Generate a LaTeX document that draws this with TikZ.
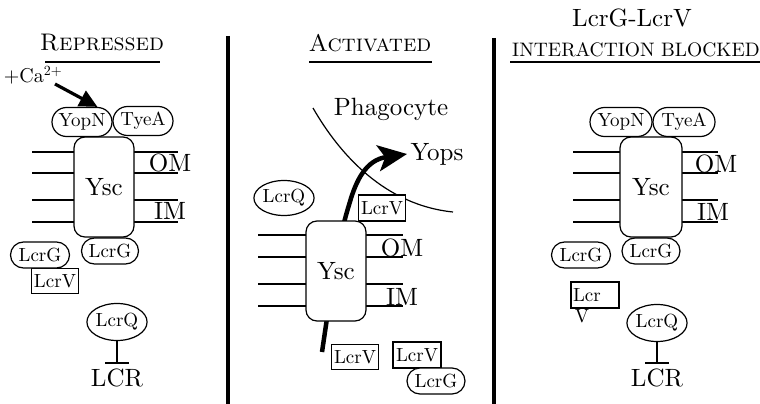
\documentclass[tikz,border=0pt]{standalone}
\usepackage{fontspec}
\setmainfont{lmroman10-regular.otf}[SmallCapsFont=lmromancaps10-regular.otf]
\usetikzlibrary{shapes.misc,shapes.geometric,arrows.meta}
\begin{document}
\begin{tikzpicture}[x=1pt,y=-1pt,
  lbl/.style={font=\fontsize{19}{21}\selectfont},
  big/.style={font=\fontsize{25}{27}\selectfont},
  headf/.style={font=\fontsize{24}{26}\selectfont},
  pill/.style={draw, rounded rectangle, line width=1.2pt, fill=white, inner sep=0pt, lbl},
  rbox/.style={draw, rectangle, line width=1.2pt, fill=white, inner sep=0pt, lbl},
  yscbox/.style={draw, rectangle, rounded corners=11pt, line width=1.2pt, fill=white, minimum width=60pt, minimum height=100pt, inner sep=0pt, big},
  oval/.style={draw, ellipse, line width=1.2pt, inner sep=0pt, fill=white, lbl},
  mem/.style={line width=1.2pt},
  divider/.style={line width=3.5pt},
  uline/.style={line width=1.8pt},
  repress/.style={line width=2.8pt},
]
\useasboundingbox (0,0) rectangle (760,404);
% dividers
\draw[divider] (228,36) -- (228,404);
\draw[divider] (494,38) -- (494,404);

%%%%% Panel 1 : Repressed
\node[headf] (h1) at (102,43) {\textsc{Repressed}};
\draw[uline] (45,62) -- (160,62);
\foreach \y in {152,173,200,222} {
  \draw[mem] (32,\y) -- (74,\y);
  \draw[mem] (134,\y) -- (178,\y);
}
\node[yscbox] (ysc1) at (104,187) {Ysc};
\node[big] (om1) at (170,163) {OM};
\node[big] (im1) at (170,211) {IM};
\node[pill, minimum width=60pt, minimum height=29pt] (yopn1) at (82,122) {YopN};
\node[pill, minimum width=60pt, minimum height=29pt] (tyea1) at (143,121) {TyeA};
\node[font=\fontsize{20}{22}\selectfont] (ca) at (33,75) {+Ca\textsuperscript{2+}};
\coordinate (catail) at (55,84);
\draw[line width=3.2pt, -{Triangle[length=18pt,width=17pt]}] (catail) -- (yopn1.north east);
\node[pill, minimum width=57pt, minimum height=26pt] (lcrgb1) at (110,251) {LcrG};
\node[rbox, minimum width=47pt, minimum height=25pt] (lcrv1) at (55,281) {LcrV};
\node[pill, minimum width=59pt, minimum height=26pt] (lcrg1) at (40,255) {LcrG};
\node[oval, minimum width=59pt, minimum height=37pt] (lcrq1) at (117,322) {LcrQ};
\coordinate (bar1) at (117,363);
\draw[repress] (lcrq1.south) -- (bar1);
\draw[repress] (105,363) -- (129,363);
\node[big] (lcr1) at (117,378) {LCR};

%%%%% Panel 2 : Activated
\node[headf] (h2) at (370,43) {\textsc{Activated}};
\draw[uline] (309,62) -- (432,62);
\draw[mem] (313,108) .. controls (340,155) and (385,205) .. (453,212);
\node[big] (phago) at (391,109) {Phagocyte};
\node[big] (yops) at (437,154) {Yops};
\coordinate (tail2) at (322,352);
\draw[line width=4.5pt, -{Stealth[length=29pt,width=26pt,inset=7pt]}] (tail2) .. controls (332,285) and (338,240) .. (349,205) .. controls (356,180) and (366,160) .. (yops.west);
\foreach \y in {235,257,284,306} {
  \draw[mem] (258,\y) -- (306,\y);
  \draw[mem] (366,\y) -- (403,\y);
}
\node[yscbox] (ysc2) at (336,271) {Ysc};
\node[big] (om2) at (402,248) {OM};
\node[big] (im2) at (402,297) {IM};
\node[oval, minimum width=58pt, minimum height=35pt] (lcrq2) at (284,198) {LcrQ};
\node[rbox, minimum width=47pt, minimum height=26pt] (lcrv2a) at (382,208) {LcrV};
\node[rbox, minimum width=47pt, minimum height=25pt] (lcrv2b) at (355,357) {LcrV};
\node[rbox, minimum width=48pt, minimum height=26pt] (lcrv2c) at (417,355) {LcrV};
\node[pill, minimum width=58pt, minimum height=26pt] (lcrg2) at (436,381) {LcrG};

%%%%% Panel 3 : interaction blocked
\node[big] (h3a) at (632,18) {LcrG-LcrV};
\node[font=\fontsize{19.5}{21}\selectfont] (h3b) at (636,50) {INTERACTION BLOCKED};
\draw[uline] (510,62) -- (760,62);
\foreach \y in {152,173,200,222} {
  \draw[mem] (573,\y) -- (620,\y);
  \draw[mem] (682,\y) -- (718,\y);
}
\node[yscbox, minimum width=62pt] (ysc3) at (651,187) {Ysc};
\node[big] (om3) at (716,164) {OM};
\node[big] (im3) at (713,212) {IM};
\node[pill, minimum width=62pt, minimum height=29pt] (yopn3) at (621,122) {YopN};
\node[pill, minimum width=62pt, minimum height=29pt] (tyea3) at (684,122) {TyeA};
\node[pill, minimum width=58pt, minimum height=26pt] (lcrgb3) at (651,251) {LcrG};
\node[pill, minimum width=59pt, minimum height=26pt] (lcrg3) at (581,255) {LcrG};
\node[rbox, minimum width=48pt, minimum height=26pt, text width=44pt, align=left] (lcr3) at (595,295) {Lcr};
\node[lbl, anchor=north, inner sep=0pt] (v3) at (582,309) {V};
\node[oval, minimum width=59pt, minimum height=37pt] (lcrq3) at (657,323) {LcrQ};
\coordinate (bar3) at (657,363);
\draw[repress] (lcrq3.south) -- (bar3);
\draw[repress] (645,363) -- (669,363);
\node[big] (lcr3t) at (657,378) {LCR};
\end{tikzpicture}
\end{document}
